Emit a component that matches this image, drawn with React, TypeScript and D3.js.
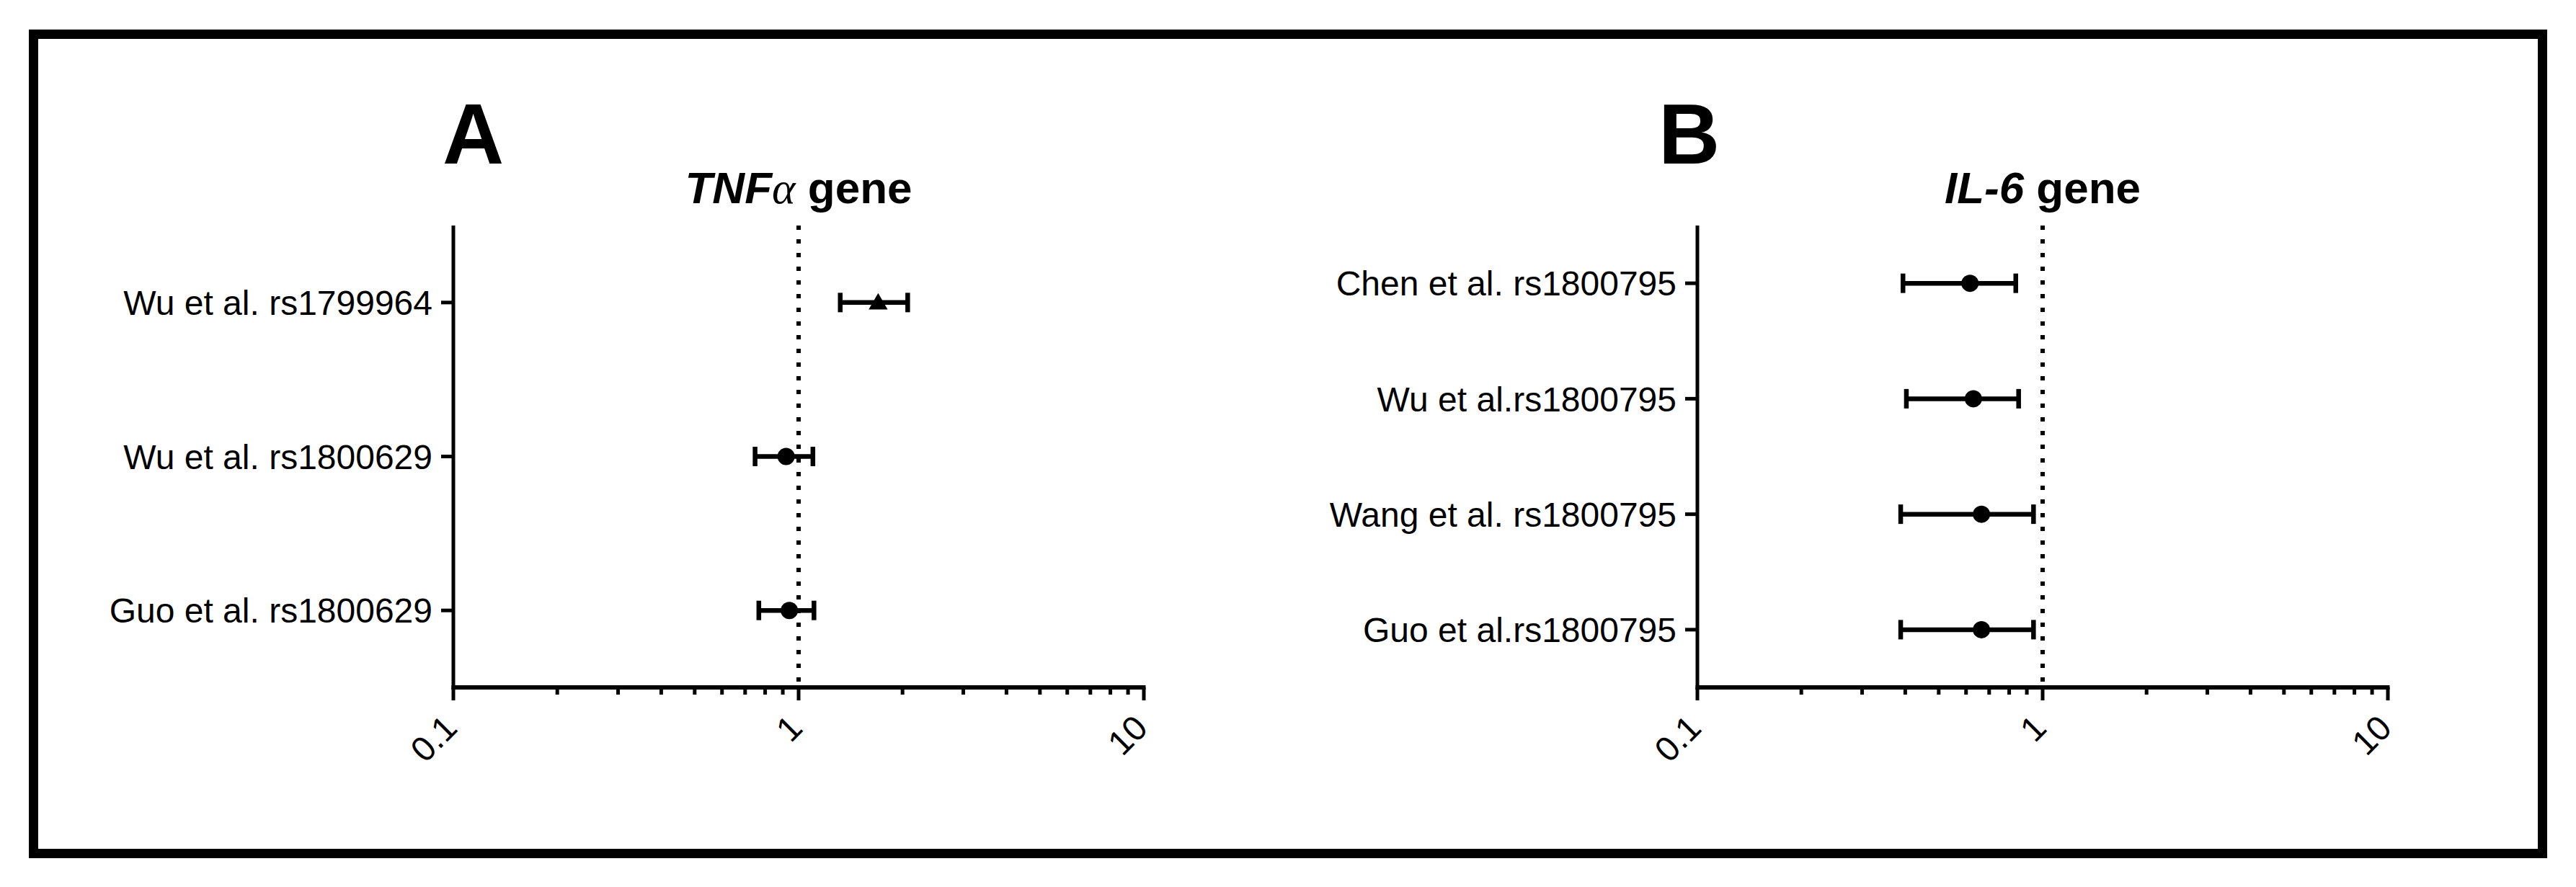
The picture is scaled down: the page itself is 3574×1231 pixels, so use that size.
import React, { useEffect, useRef } from 'react';
import * as d3 from 'd3';

// Panel A - TNFa gene
const studiesA = ['Wu et al. rs1799964', 'Wu et al. rs1800629', 'Guo et al. rs1800629'];
const orA = [1.70, 0.92, 0.94];
const lowA = [1.32, 0.748, 0.767];
const highA = [2.07, 1.10, 1.108];
const markerA = ['triangle', 'circle', 'circle'];

// Panel B - IL-6 gene
const studiesB = ['Chen et al. rs1800795', 'Wu et al.rs1800795', 'Wang et al. rs1800795', 'Guo et al.rs1800795'];
const orB = [0.616, 0.630, 0.665, 0.665];
const lowB = [0.394, 0.403, 0.388, 0.388];
const highB = [0.836, 0.852, 0.941, 0.941];
const markerB = ['circle', 'circle', 'circle', 'circle'];

const xTickLabels = [0.1, 1, 10];
const minorTicks = [0.2, 0.3, 0.4, 0.5, 0.6, 0.7, 0.8, 0.9, 2, 3, 4, 5, 6, 7, 8, 9];

const W = 3574;
const H = 1231;
const FONT = '"Liberation Sans", Arial, Helvetica, sans-serif';

const drawPanel = (svg, opts) => {
  const { studies, or, low, high, marker, x0, letter, letterX, title } = opts;
  const top = 313;
  const axisY = 954;

  const x = d3.scaleLog().domain([0.1, 10]).range([x0, x0 + 958]);
  const y = d3.scalePoint().domain(studies).range([top, axisY]).padding(0.5);

  const g = svg.append('g');

  // panel letter
  g.append('text')
    .attr('x', letterX)
    .attr('y', 227)
    .attr('font-family', FONT)
    .attr('font-weight', 700)
    .attr('font-size', 118)
    .text(letter);

  // title
  const t = g.append('text')
    .attr('x', x(1))
    .attr('y', 282)
    .attr('text-anchor', 'middle')
    .attr('font-family', FONT)
    .attr('font-weight', 700)
    .attr('font-size', 62);
  title.forEach(part => {
    t.append('tspan')
      .attr('font-style', part.italic ? 'italic' : 'normal')
      .attr('font-family', part.serif ? '"Liberation Serif", "Times New Roman", serif' : FONT)
      .attr('font-weight', part.serif ? 400 : 700)
      .text(part.text);
  });

  // reference line at OR = 1
  g.append('line')
    .attr('x1', x(1)).attr('x2', x(1))
    .attr('y1', top).attr('y2', axisY)
    .attr('stroke', '#000')
    .attr('stroke-width', 6)
    .attr('stroke-dasharray', '6 13');

  // y axis
  g.append('line')
    .attr('x1', x0).attr('x2', x0)
    .attr('y1', top).attr('y2', axisY + 3)
    .attr('stroke', '#000')
    .attr('stroke-width', 5);

  g.selectAll('.ytick')
    .data(studies).enter()
    .append('line')
    .attr('x1', x0 - 17).attr('x2', x0)
    .attr('y1', d => y(d)).attr('y2', d => y(d))
    .attr('stroke', '#000')
    .attr('stroke-width', 5);

  g.selectAll('.ylabel')
    .data(studies).enter()
    .append('text')
    .attr('x', x0 - 29)
    .attr('y', d => y(d))
    .attr('dy', '0.36em')
    .attr('text-anchor', 'end')
    .attr('font-family', FONT)
    .attr('font-size', 48)
    .text(d => d);

  // x axis
  g.append('line')
    .attr('x1', x(0.1) - 2.5).attr('x2', x(10) + 2.5)
    .attr('y1', axisY).attr('y2', axisY)
    .attr('stroke', '#000')
    .attr('stroke-width', 6);

  g.selectAll('.xmajor')
    .data(xTickLabels).enter()
    .append('line')
    .attr('x1', d => x(d)).attr('x2', d => x(d))
    .attr('y1', axisY).attr('y2', axisY + 18)
    .attr('stroke', '#000')
    .attr('stroke-width', 5);

  g.selectAll('.xminor')
    .data(minorTicks).enter()
    .append('line')
    .attr('x1', d => x(d)).attr('x2', d => x(d))
    .attr('y1', axisY).attr('y2', axisY + 10)
    .attr('stroke', '#000')
    .attr('stroke-width', 5);

  g.selectAll('.xlabel')
    .data(xTickLabels).enter()
    .append('text')
    .attr('transform', d => `translate(${x(d) + 8}, ${axisY + 59}) rotate(-45)`)
    .attr('text-anchor', 'end')
    .attr('font-family', FONT)
    .attr('font-size', 48)
    .text(d => d);

  // error bars
  const rows = studies.map((s, i) => ({ s, or: or[i], lo: low[i], hi: high[i], m: marker[i] }));

  g.selectAll('.ebar')
    .data(rows).enter()
    .append('line')
    .attr('x1', d => x(d.lo)).attr('x2', d => x(d.hi))
    .attr('y1', d => y(d.s)).attr('y2', d => y(d.s))
    .attr('stroke', '#000')
    .attr('stroke-width', 6.5);

  g.selectAll('.capLo')
    .data(rows).enter()
    .append('line')
    .attr('x1', d => x(d.lo)).attr('x2', d => x(d.lo))
    .attr('y1', d => y(d.s) - 13.5).attr('y2', d => y(d.s) + 13.5)
    .attr('stroke', '#000')
    .attr('stroke-width', 6.5);

  g.selectAll('.capHi')
    .data(rows).enter()
    .append('line')
    .attr('x1', d => x(d.hi)).attr('x2', d => x(d.hi))
    .attr('y1', d => y(d.s) - 13.5).attr('y2', d => y(d.s) + 13.5)
    .attr('stroke', '#000')
    .attr('stroke-width', 6.5);

  // markers
  const circleSym = d3.symbol().type(d3.symbolCircle).size(Math.PI * 12 * 12);
  const triSym = d3.symbol().type(d3.symbolTriangle).size(300);

  g.selectAll('.mark')
    .data(rows).enter()
    .append('path')
    .attr('transform', d => `translate(${x(d.or)}, ${y(d.s) + (d.m === 'triangle' ? 2 : 0)})`)
    .attr('d', d => (d.m === 'triangle' ? triSym() : circleSym()))
    .attr('fill', '#000');
};

const App = () => {
  const ref = useRef(null);

  useEffect(() => {
    d3.select(ref.current).selectAll('*').remove();

    const svg = d3.select(ref.current)
      .append('svg')
      .attr('width', W)
      .attr('height', H)
      .attr('viewBox', `0 0 ${W} ${H}`)
      .style('position', 'absolute')
      .style('left', 0)
      .style('top', 0)
      .style('background', '#fff');

    // outer frame
    svg.append('rect')
      .attr('x', 46.5)
      .attr('y', 47.5)
      .attr('width', 3527.5 - 46.5)
      .attr('height', 1184.5 - 47.5)
      .attr('fill', 'none')
      .attr('stroke', '#000')
      .attr('stroke-width', 13);

    drawPanel(svg, {
      studies: studiesA, or: orA, low: lowA, high: highA, marker: markerA,
      x0: 629, letter: 'A', letterX: 614,
      title: [
        { text: 'TNF', italic: true },
        { text: 'α', italic: true, serif: true },
        { text: ' gene' }
      ]
    });

    drawPanel(svg, {
      studies: studiesB, or: orB, low: lowB, high: highB, marker: markerB,
      x0: 2355, letter: 'B', letterX: 2301,
      title: [
        { text: 'IL-6', italic: true },
        { text: ' gene' }
      ]
    });
  }, []);

  return <div id='forestChart' ref={ref}></div>;
};

export default App;
